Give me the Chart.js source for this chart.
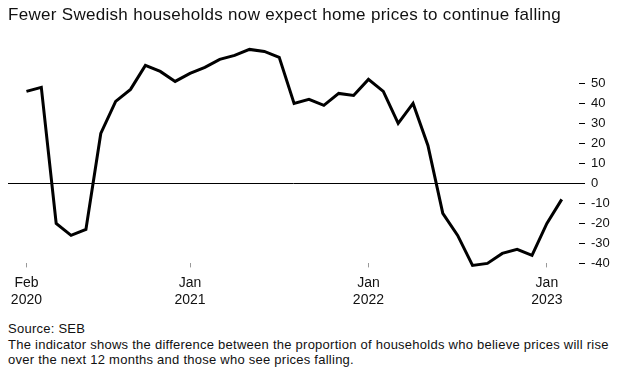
<!DOCTYPE html>
<html>
<head>
<meta charset="utf-8">
<script src="https://cdn.jsdelivr.net/npm/chart.js@4.4.0/dist/chart.umd.min.js"></script>
<style>
    body { margin: 0; background: #fff; font-family: "Liberation Sans", Arial, sans-serif; }
    #wrap { position: relative; width: 626px; height: 373px; overflow: hidden; }
    #title { position: absolute; left: 8px; top: 4px; font-size: 17px; line-height: 21px; letter-spacing: 0.3px; color: #111; white-space: nowrap; }
    #chartBox { position: absolute; left: 0; top: 0; width: 626px; height: 320px; }
    #notes { position: absolute; left: 8px; top: 321px; font-size: 13px; line-height: 15.5px; letter-spacing: 0.25px; color: #111; white-space: nowrap; }
</style>
</head>
<body>
<div id="wrap">
    <div id="chartBox"><canvas id="expChart"></canvas></div>
    <div id="title">Fewer Swedish households now expect home prices to continue falling</div>
    <div id="notes">
        Source: SEB<br>
        The indicator shows the difference between the proportion of households who believe prices will rise<br>
        over the next 12 months and those who see prices falling.
    </div>
</div>
<script>
// Months, Feb 2020 .. Feb 2023
const months = [
    'Feb 2020', 'Mar 2020', 'Apr 2020', 'May 2020', 'Jun 2020', 'Jul 2020', 'Aug 2020', 'Sep 2020', 'Oct 2020', 'Nov 2020', 'Dec 2020',
    'Jan 2021', 'Feb 2021', 'Mar 2021', 'Apr 2021', 'May 2021', 'Jun 2021', 'Jul 2021', 'Aug 2021', 'Sep 2021', 'Oct 2021', 'Nov 2021', 'Dec 2021',
    'Jan 2022', 'Feb 2022', 'Mar 2022', 'Apr 2022', 'May 2022', 'Jun 2022', 'Jul 2022', 'Aug 2022', 'Sep 2022', 'Oct 2022', 'Nov 2022', 'Dec 2022',
    'Jan 2023', 'Feb 2023'
];

// Home price expectations indicator (net balance)
const indicator = [
    46, 48, -20, -26, -23, 25, 41, 47, 59, 56, 51,
    55, 58, 62, 64, 67, 66, 63, 40, 42, 39, 45, 44,
    52, 46, 30, 40, 19, -15, -26, -41, -40, -35, -33, -36,
    -20, -8
];

const xTickMonths = ['Feb 2020', 'Jan 2021', 'Jan 2022', 'Jan 2023'];
const yTicks = [-40, -30, -20, -10, 0, 10, 20, 30, 40, 50];

const points = indicator.map((v, i) => ({ x: i, y: v }));

new Chart(document.getElementById('expChart'), {
    type: 'line',
    data: {
        datasets: [{
            data: points,
            borderColor: '#000',
            borderWidth: 3,
            pointRadius: 0,
            tension: 0,
            clip: false
        }]
    },
    options: {
        responsive: true,
        maintainAspectRatio: false,
        animation: false,
        layout: {
            padding: { left: 8, top: 43.4, right: 0, bottom: 0 }
        },
        plugins: {
            legend: { display: false },
            tooltip: { enabled: false }
        },
        scales: {
            x: {
                type: 'linear',
                min: -1.24,
                max: 37.16,
                afterBuildTicks: (scale) => {
                    scale.ticks = xTickMonths.map(m => ({ value: months.indexOf(m) }));
                },
                afterFit: (scale) => { scale.height = 56.6; },
                border: { display: false },
                grid: {
                    drawOnChartArea: false,
                    drawTicks: true,
                    tickLength: 4,
                    tickColor: '#999',
                    lineWidth: 1
                },
                ticks: {
                    autoSkip: false,
                    maxRotation: 0,
                    padding: 7,
                    color: '#111',
                    font: { family: 'Liberation Sans', size: 14, lineHeight: 1.21 },
                    callback: (value) => {
                        const m = months[value];
                        return m ? m.split(' ') : '';
                    }
                }
            },
            y: {
                position: 'right',
                min: -40,
                max: 70,
                afterBuildTicks: (scale) => {
                    scale.ticks = yTicks.map(v => ({ value: v }));
                },
                afterFit: (scale) => { scale.width = 47; },
                border: { display: false },
                grid: {
                    drawOnChartArea: true,
                    color: (ctx) => (ctx.tick && ctx.tick.value === 0 ? '#000' : 'rgba(0,0,0,0)'),
                    lineWidth: 1,
                    drawTicks: true,
                    tickLength: 6,
                    tickColor: '#000'
                },
                ticks: {
                    padding: 6,
                    color: '#111',
                    font: { family: 'Liberation Sans', size: 13 }
                }
            }
        }
    }
});
</script>
</body>
</html>
